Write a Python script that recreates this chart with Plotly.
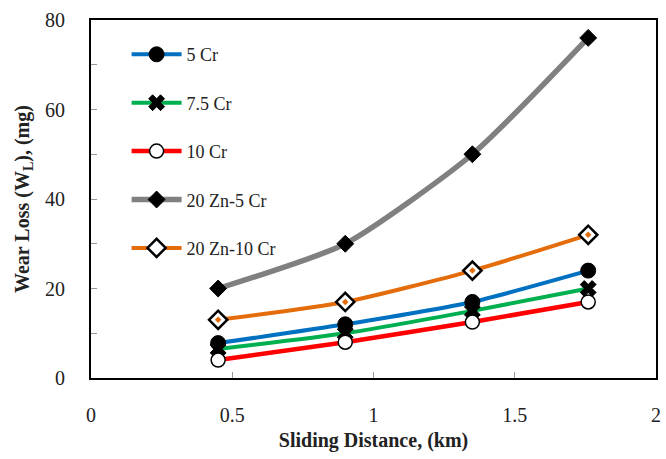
import plotly.graph_objects as go

distance = [0.45, 0.9, 1.35, 1.76]
series_names = ["5 Cr", "7.5 Cr", "10 Cr", "20 Zn-5 Cr", "20 Zn-10 Cr"]
cr5 = [7.8, 12, 17, 24]
cr75 = [6.5, 10, 15, 20]
cr10 = [4, 8, 12.5, 17]
zn20_cr5 = [20, 30, 50, 76]
zn20_cr10 = [13, 17, 24, 32]

values = [cr5, cr75, cr10, zn20_cr5, zn20_cr10]
colors = ["#0070C0", "#00B050", "#FF0000", "#808080", "#E46C0A"]
widths = [4, 4, 4.5, 5.5, 4]
markers = [
    dict(symbol="circle", size=15, color="black", line=dict(color="black", width=1)),
    dict(symbol="x", size=14, color="black", line=dict(color="black", width=1)),
    dict(symbol="circle", size=14, color="white", line=dict(color="black", width=1.5)),
    dict(symbol="diamond", size=13, color="black", line=dict(color="black", width=1)),
    dict(symbol="diamond", size=14, color="white", line=dict(color="black", width=2.5)),
]

fig = go.Figure()
for name, vals, col, w, mk in zip(series_names, values, colors, widths, markers):
    fig.add_trace(go.Scatter(
        x=distance, y=vals, name=name, mode="lines+markers",
        line=dict(color=col, width=w, shape="spline", smoothing=0.6),
        marker=mk, legendgroup=name,
    ))
# orange centre of the 20 Zn-10 Cr diamonds
fig.add_trace(go.Scatter(
    x=distance, y=zn20_cr10, mode="markers", showlegend=False, hoverinfo="skip",
    marker=dict(symbol="diamond", size=5, color="#E46C0A", line=dict(width=0)),
))

font_family = "Liberation Serif, DejaVu Serif, serif"
fig.update_layout(
    width=666, height=459,
    margin=dict(l=91, r=5, t=20, b=81),
    plot_bgcolor="white", paper_bgcolor="white",
    font=dict(family=font_family, size=20, color="#222"),
    showlegend=True,
    legend=dict(
        x=0.063, y=0.955, xanchor="left", yanchor="top",
        font=dict(family=font_family, size=18, color="#222"),
        tracegroupgap=22, itemwidth=50, bgcolor="rgba(0,0,0,0)",
    ),
    xaxis=dict(
        range=[0, 2], dtick=0.5, tick0=0,
        showline=True, linecolor="black", linewidth=2, mirror=True,
        ticks="inside", ticklen=6, tickcolor="#999", showgrid=False, zeroline=False,
        tickfont=dict(size=20, color="#222"), ticklabelstandoff=18,
        title=dict(text="<b>Sliding Distance, (km)</b>", font=dict(size=20), standoff=8),
    ),
    yaxis=dict(
        range=[0, 80], dtick=20, tick0=0,
        showline=True, linecolor="black", linewidth=2, mirror=True,
        ticks="inside", ticklen=6, tickcolor="#999", showgrid=False, zeroline=False,
        minor=dict(dtick=10, ticks="inside", ticklen=6, tickcolor="#999", showgrid=False),
        tickfont=dict(size=20, color="#222"), ticklabelstandoff=20,
        title=dict(text="<b>Wear Loss (W<sub>L</sub>), (mg)</b>", font=dict(size=20), standoff=10),
    ),
)

fig.write_html("out.html")
